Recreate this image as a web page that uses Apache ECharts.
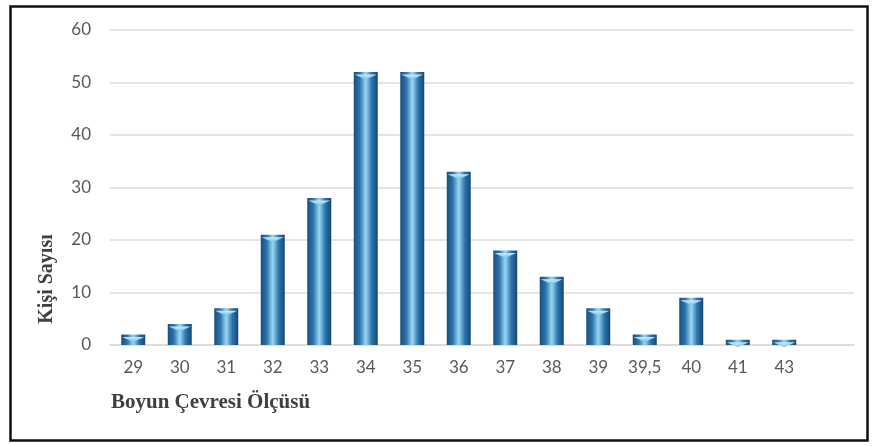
<!DOCTYPE html>
<html><head><meta charset="utf-8">
<script src="https://cdn.jsdelivr.net/npm/echarts@6/dist/echarts.min.js"></script>
<style>html,body{margin:0;padding:0;background:#fff}#c{width:873px;height:446px}</style>
</head><body><div id="c"></div>
<script>
const categories = ['29','30','31','32','33','34','35','36','37','38','39','39,5','40','41','43',''];
const counts = [2,4,7,21,28,52,52,33,18,13,7,2,9,1,1,null];
const yTicks = {min:0, max:60, interval:10};
const xTitle = 'Boyun Çevresi Ölçüsü';
const yTitle = 'Kişi Sayısı';

const chart = echarts.init(document.getElementById('c'), null, {renderer:'canvas'});
const barGrad = new echarts.graphic.LinearGradient(0,0,1,0,[
  {offset:0,color:'#1a4f7c'},
  {offset:0.25,color:'#2b74ad'},
  {offset:0.5,color:'#9ad7f3'},
  {offset:0.75,color:'#2b74ad'},
  {offset:1,color:'#164672'}
]);
const capGrad = new echarts.graphic.LinearGradient(0,0,0,1,[
  {offset:0,color:'#d8f2fc'},
  {offset:1,color:'#6fbfe6'}
]);
chart.setOption({
  animation:false,
  grid:{left:110,right:19,top:30,bottom:101},
  xAxis:{type:'category',data:categories,
    axisLine:{lineStyle:{color:'#d9d9d9',width:1.5}},axisTick:{show:false},
    axisLabel:{color:'#595959',fontSize:17,fontFamily:'Lato, sans-serif',margin:14}},
  yAxis:{type:'value',min:yTicks.min,max:yTicks.max,interval:yTicks.interval,
    axisLine:{show:false},axisTick:{show:false},
    splitLine:{lineStyle:{color:'#dcdcdc',width:1.5}},
    axisLabel:{color:'#595959',fontSize:17,fontFamily:'Lato, sans-serif',margin:19}},
  series:[
    {type:'bar',data:counts,barWidth:24,itemStyle:{color:barGrad},z:2},
    {type:'pictorialBar',data:counts,symbol:'path://M0,0 L24,0 L12,6 Z',symbolSize:[22,5],
     symbolPosition:'end',symbolOffset:[0,'50%'],itemStyle:{color:capGrad,opacity:0.9},z:3,silent:true}
  ],
  graphic:[
    {type:'rect',left:8,top:4,shape:{width:857,height:434},style:{fill:'none',stroke:'#111',lineWidth:2.5},silent:true},
    {type:'text',x:111,y:403,style:{text:xTitle,font:'bold 21px "Liberation Serif", serif',fill:'#404040',verticalAlign:'middle'}},
    {type:'text',x:47,y:279,rotation:Math.PI/2,style:{text:yTitle,font:'bold 20px "Liberation Serif", serif',fill:'#404040',align:'center',verticalAlign:'middle'}}
  ]
});
</script></body></html>
